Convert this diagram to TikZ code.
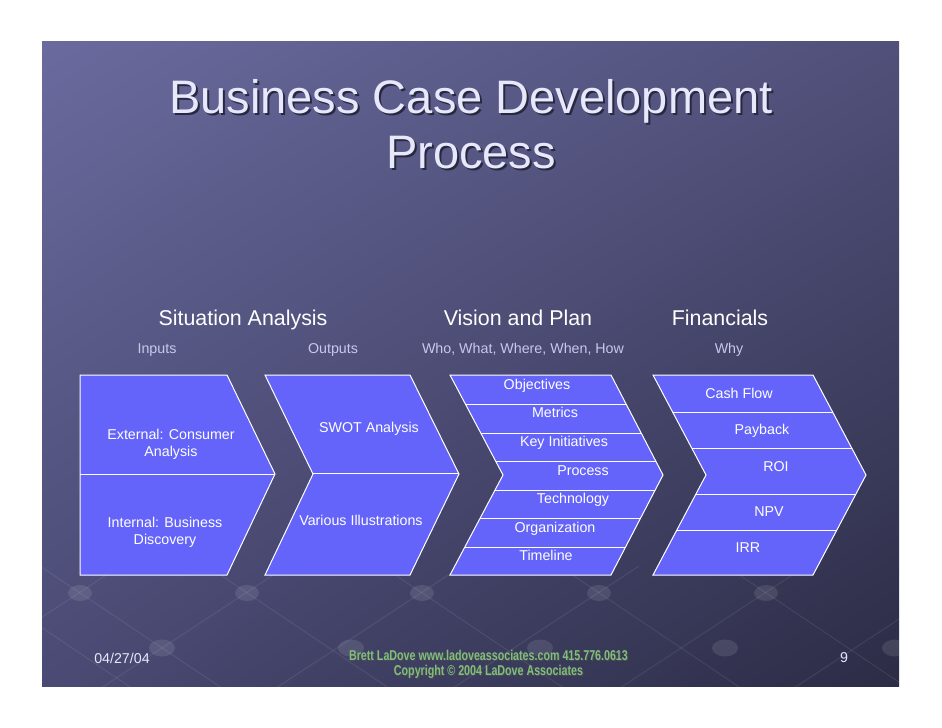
\documentclass[tikz,border=0pt]{standalone}
\usepackage{fontspec}
\usetikzlibrary{shadings}
\setmainfont{Liberation Sans}
\newfontfamily\narrowsf[FakeStretch=0.75]{Liberation Sans Bold}

\definecolor{chevblue}{RGB}{100,100,250}
\definecolor{slideTL}{RGB}{106,106,158}
\definecolor{slideTR}{RGB}{80,80,122}
\definecolor{slideBL}{RGB}{74,74,116}
\definecolor{slideBR}{RGB}{44,44,70}
\definecolor{titletext}{RGB}{232,232,252}
\definecolor{titleshadow}{RGB}{40,40,64}
\definecolor{subtext}{RGB}{200,200,238}
\definecolor{footgreen}{RGB}{128,190,128}

\begin{document}
\begin{tikzpicture}[x=1bp, y=-1bp,
	chev/.style={fill=chevblue, draw=white, line width=1bp},
	divline/.style={draw=white, line width=1bp},
	bead/.style={fill=white, fill opacity=0.1},
	gridline/.style={draw=white, draw opacity=0.08, line width=1bp},
	lbl/.style={text=white, font=\fontsize{14.25bp}{17bp}\selectfont, inner sep=0pt, anchor=base},
	twolbl/.style={lbl, anchor=center, align=center},
	head/.style={text=white, font=\fontsize{21.4bp}{25bp}\selectfont, inner sep=0pt, anchor=base},
	subhead/.style={text=subtext, font=\fontsize{14.25bp}{17bp}\selectfont, inner sep=0pt, anchor=base},
	titlefont/.style={text=titletext, font=\fontsize{47bp}{55bp}\selectfont, inner sep=0pt, anchor=base},
	footfont/.style={lbl, font=\narrowsf\fontsize{14.25bp}{17bp}\selectfont, text=footgreen}]
	%	slide setup
	\useasboundingbox (0,0) rectangle (942,728);
	\fill[white] (0,0) rectangle (942,728);
	\shade[upper left=slideTL, upper right=slideTR, lower left=slideBL, lower right=slideBR] (42,42) rectangle (899,686);
	
	%	background beads
	\begin{scope}
		\clip (42,42) rectangle (899,686);
		\foreach \x in {-10,80,247,422,599,766}
			\draw[gridline] (\x-40,566) -- (\x+170,707);
		\foreach \x in {80,247,422,599,766,940}
			\draw[gridline] (\x+40,566) -- (\x-175,707);
		\foreach \x in {80,247,422,599,766}
			\fill[bead] (\x,593) ellipse (12 and 8);
		\foreach \x in {162,351,540,725,895}
			\fill[bead] (\x,648) ellipse (13 and 8.5);
	\end{scope}
	
	%	title
	\node[titlefont] (title) at (471,114) {\rlap{\kern2bp\raisebox{-2bp}{\color{titleshadow}Business Case Development}}Business Case Development};
	\node[titlefont] (title2) at (471,169) {\rlap{\kern2bp\raisebox{-2bp}{\color{titleshadow}Process}}Process};
	
	%	headers
	\node[head] (sit) at (243,325) {Situation Analysis};
	\node[head] (vis) at (518,325) {Vision and Plan};
	\node[head] (fin) at (720,325) {Financials};
	\node[subhead] (inp) at (157,353) {Inputs};
	\node[subhead] (outp) at (333,353) {Outputs};
	\node[subhead] (who) at (523,353) {Who, What, Where, When, How};
	\node[subhead] (why) at (729,353) {Why};
	
	%	chevrons
	\draw[chev] (80,375) -- (227,375) -- (275,474) -- (227,575) -- (80,575) -- cycle;
	\draw[divline] (80,474) -- (275,474);
	\draw[chev] (265,375) -- (410,375) -- (459,474) -- (410,575) -- (265,575) -- (313,474) -- cycle;
	\draw[divline] (313,473) -- (459,473);
	\draw[chev] (450,375) -- (611,375) -- (663,475) -- (611,575) -- (450,575) -- (503,475) -- cycle;
	\foreach \yy in {404,433,461,490,518,547}
		\draw[divline] ({450+53*(1-abs(\yy-475)/100)}, \yy) -- ({611+52*(1-abs(\yy-475)/100)}, \yy);
	\draw[chev] (653,375) -- (813,375) -- (866,475) -- (813,575) -- (653,575) -- (706,475) -- cycle;
	\foreach \yy in {412,448,494,530}
		\draw[divline] ({653+53*(1-abs(\yy-475)/100)}, \yy) -- ({813+53*(1-abs(\yy-475)/100)}, \yy);
	
	%	situation analysis
	\node[twolbl] (ext) at (171,444) {External: Consumer\\Analysis};
	\node[twolbl] (int) at (165,532.5) {Internal: Business\\Discovery};
	\node[lbl] (swot) at (369,432.5) {SWOT Analysis};
	\node[lbl] (illus) at (361,525.5) {Various Illustrations};
	
	%	vision and plan
	\node[lbl] (obj) at (537,389.5) {Objectives};
	\node[lbl] (met) at (555,417.5) {Metrics};
	\node[lbl] (key) at (564,446) {Key Initiatives};
	\node[lbl] (proc) at (583,475) {Process};
	\node[lbl] (tech) at (573,503.5) {Technology};
	\node[lbl] (org) at (555,532) {Organization};
	\node[lbl] (time) at (546,560) {Timeline};
	
	%	financials
	\node[lbl] (cash) at (739,398) {Cash Flow};
	\node[lbl] (pay) at (762,434) {Payback};
	\node[lbl] (roi) at (776,471) {ROI};
	\node[lbl] (npv) at (769,516) {NPV};
	\node[lbl] (irr) at (748,552) {IRR};
	
	%	footer
	\node[lbl, text=titletext] (date) at (122,663) {04/27/04};
	\node[lbl, text=titletext] (page) at (844,662.5) {9};
	\node[footfont] (credit) at (488.5,660) {\rlap{\kern1bp\raisebox{-1bp}{\color{black!70}Brett LaDove www.ladoveassociates.com 415.776.0613}}Brett LaDove www.ladoveassociates.com 415.776.0613};
	\node[footfont] (copy) at (488.5,675) {\rlap{\kern1bp\raisebox{-1bp}{\color{black!70}Copyright © 2004 LaDove Associates}}Copyright © 2004 LaDove Associates};
\end{tikzpicture}
\end{document}
